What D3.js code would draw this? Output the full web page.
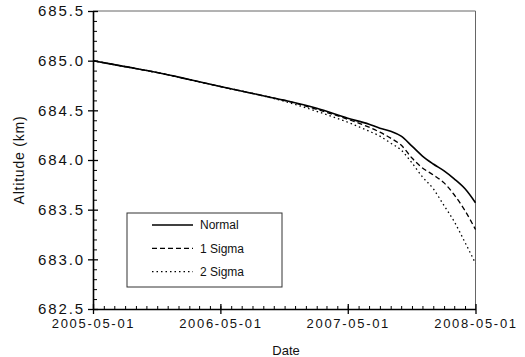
<!DOCTYPE html>
<html>
<head>
<meta charset="utf-8">
<script src="https://cdn.jsdelivr.net/npm/d3@7"></script>
<style>
  body { margin: 0; background: #fff; }
  svg { display: block; font-family: Arial, "Liberation Sans", sans-serif; }
</style>
</head>
<body>
<div id="chart"></div>
<script>
const dates = [
  "2005-05-01", "2005-08-01", "2005-11-01", "2006-02-01", "2006-05-01",
  "2006-08-01", "2006-11-01", "2007-02-01", "2007-05-01", "2007-07-01",
  "2007-08-01", "2007-09-01", "2007-10-01", "2007-11-01", "2007-12-01",
  "2008-01-01", "2008-02-01", "2008-03-01", "2008-04-01", "2008-05-01"
];
const normal = [685.00, 684.94, 684.88, 684.81, 684.74, 684.67, 684.60, 684.52, 684.42, 684.36,
  684.32, 684.29, 684.24, 684.14, 684.04, 683.96, 683.89, 683.81, 683.71, 683.57];
const sigma1 = [685.00, 684.94, 684.88, 684.81, 684.74, 684.67, 684.60, 684.51, 684.41, 684.33,
  684.28, 684.22, 684.15, 684.02, 683.92, 683.85, 683.77, 683.65, 683.49, 683.30];
const sigma2 = [685.00, 684.94, 684.88, 684.81, 684.74, 684.67, 684.59, 684.49, 684.38, 684.29,
  684.24, 684.17, 684.10, 683.97, 683.83, 683.71, 683.54, 683.38, 683.17, 682.96];

const seriesNames = ["Normal", "1 Sigma", "2 Sigma"];
const xTickLabels = ["2005-05-01", "2006-05-01", "2007-05-01", "2008-05-01"];
const yTicks = [682.5, 683.0, 683.5, 684.0, 684.5, 685.0, 685.5];

const width = 525;
const height = 357;
const margin = { top: 11, right: 50, bottom: 48, left: 93 };

const parse = d3.timeParse("%Y-%m-%d");

const svg = d3.select("#chart").append("svg")
  .attr("width", width)
  .attr("height", height);

const x = d3.scaleTime()
  .domain([parse(xTickLabels[0]), parse(xTickLabels[xTickLabels.length - 1])])
  .range([margin.left, width - margin.right + 0.5]);

const y = d3.scaleLinear()
  .domain([682.5, 685.5])
  .range([height - margin.bottom, margin.top]);

// frame (top / right, thin grey)
svg.append("path")
  .attr("d", `M${x.range()[0]},${y.range()[1]}H${x.range()[1]}V${y.range()[0]}`)
  .attr("fill", "none")
  .attr("stroke", "#666")
  .attr("stroke-width", 1);

// minor ticks
const minorY = d3.range(6825, 6856, 1).map(d => d / 10).filter(d => !yTicks.includes(d));
svg.append("g")
  .attr("transform", `translate(${margin.left},0)`)
  .call(d3.axisLeft(y).tickValues(minorY).tickSize(-4).tickFormat(""))
  .call(g => g.select(".domain").remove());

const minorX = d3.timeMonth.range(x.domain()[0], x.domain()[1]);
svg.append("g")
  .attr("transform", `translate(0,${height - margin.bottom})`)
  .call(d3.axisBottom(x).tickValues(minorX).tickSize(-3).tickFormat(""))
  .call(g => g.select(".domain").remove());

// y axis
svg.append("g")
  .attr("transform", `translate(${margin.left},0)`)
  .call(d3.axisLeft(y).tickValues(yTicks).tickFormat(d3.format(".1f")).tickSize(5).tickPadding(3).tickSizeOuter(0))
  .call(g => g.select(".domain").attr("stroke-width", 1.6))
  .call(g => g.selectAll(".tick line").attr("x1", 5).attr("stroke-width", 1.3))
  .call(g => g.selectAll(".tick text")
    .attr("font-size", 15)
    .attr("letter-spacing", 1.9)
    .attr("fill", "#111"));

// x axis
svg.append("g")
  .attr("transform", `translate(0,${height - margin.bottom})`)
  .call(d3.axisBottom(x).tickValues(xTickLabels.map(parse)).tickFormat(d3.timeFormat("%Y-%m-%d")).tickSize(5).tickPadding(5).tickSizeOuter(0))
  .call(g => g.select(".domain").attr("stroke-width", 1.6))
  .call(g => g.selectAll(".tick line").attr("y1", -5).attr("stroke-width", 1.3))
  .call(g => g.selectAll(".tick text")
    .attr("font-size", 13)
    .attr("letter-spacing", 1.7)
    .attr("fill", "#111"));

// axis titles
svg.append("text")
  .attr("transform", `translate(24,${(y.range()[0] + y.range()[1]) / 2}) rotate(-90)`)
  .attr("text-anchor", "middle")
  .attr("font-size", 14)
  .attr("letter-spacing", 0.8)
  .attr("fill", "#111")
  .text("Altitude (km)");

svg.append("text")
  .attr("x", 286)
  .attr("y", 355)
  .attr("text-anchor", "middle")
  .attr("font-size", 13)
  .attr("fill", "#111")
  .text("Date");

// series
const series = [
  { name: seriesNames[0], values: normal, dash: null, width: 1.6 },
  { name: seriesNames[1], values: sigma1, dash: "5,3", width: 1.3 },
  { name: seriesNames[2], values: sigma2, dash: "1.5,3", width: 1.3 }
];

const line = d3.line()
  .x(d => x(d.date))
  .y(d => y(d.value))
  .curve(d3.curveMonotoneX);

series.slice().reverse().forEach(s => {
  const pts = dates.map((d, i) => ({ date: parse(d), value: s.values[i] }));
  svg.append("path")
    .datum(pts)
    .attr("fill", "none")
    .attr("stroke", "#000")
    .attr("stroke-width", s.width)
    .attr("stroke-dasharray", s.dash)
    .attr("d", line);
});

// legend
const legend = svg.append("g").attr("transform", "translate(127,213)");
legend.append("rect")
  .attr("width", 155)
  .attr("height", 74)
  .attr("fill", "#fff")
  .attr("stroke", "#333")
  .attr("stroke-width", 1);

series.forEach((s, i) => {
  const ly = 12 + i * 23.3;
  legend.append("line")
    .attr("x1", 25).attr("x2", 66)
    .attr("y1", ly).attr("y2", ly)
    .attr("stroke", "#000")
    .attr("stroke-width", s.width)
    .attr("stroke-dasharray", s.dash);
  legend.append("text")
    .attr("x", 73)
    .attr("y", ly)
    .attr("dy", "0.35em")
    .attr("font-size", 12)
    .attr("fill", "#111")
    .text(s.name);
});
</script>
</body>
</html>
